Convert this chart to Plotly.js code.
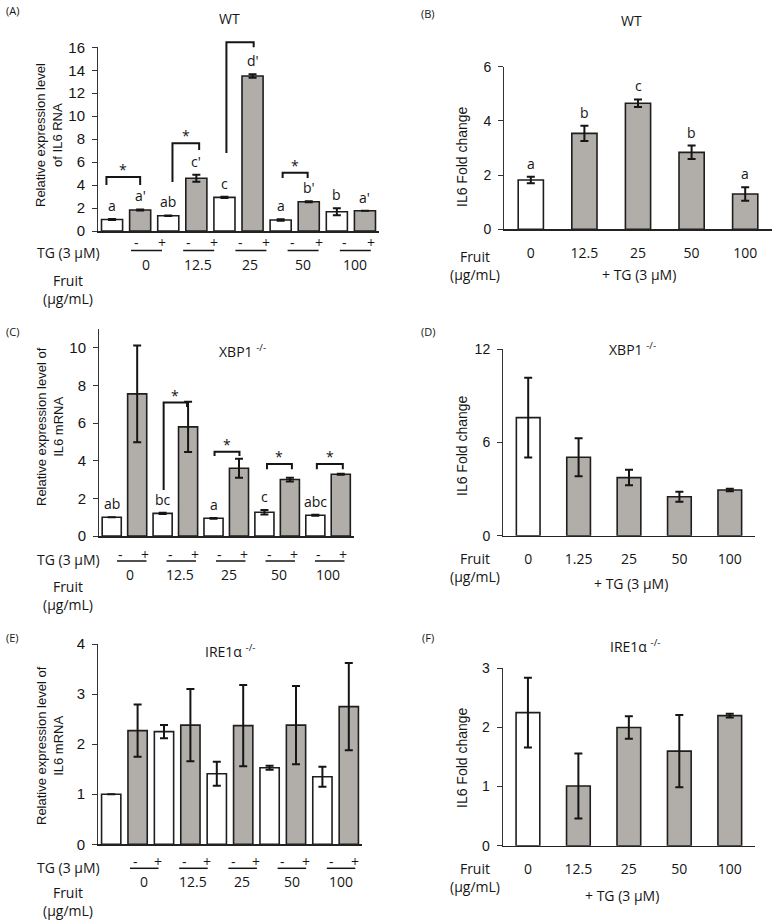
<!DOCTYPE html>
<html><head><meta charset="utf-8">
<script src="https://cdn.plot.ly/plotly-3.0.1.min.js"></script>
<style>html,body{margin:0;padding:0;background:#fff}</style>
</head><body><div id="chart" style="width:779px;height:921px"></div>
<script>
// ---------- data ----------
// (A) WT, relative expression (pairs: TG -, TG +)
const aValues  = [1.00, 1.83, 1.33, 4.59, 2.93, 13.5, 0.96, 2.55, 1.68, 1.77];
const aErrors  = [0.05, 0.05, 0.03, 0.30, 0.05, 0.15, 0.07, 0.05, 0.30, null];
const aLetters = ["a", "a'", "ab", "c'", "c", "d'", "a", "b'", "b", "a'"];
// (B) WT, fold change
const bValues  = [1.82, 3.54, 4.65, 2.84, 1.30];
const bErrors  = [0.12, 0.28, 0.14, 0.25, 0.25];
const bLetters = ["a", "b", "c", "b", "a"];
const bCategories = ["0", "12.5", "25", "50", "100"];
// (C) XBP1 -/-
const cValues  = [1.00, 7.55, 1.20, 5.80, 0.94, 3.60, 1.26, 3.00, 1.10, 3.28];
const cErrors  = [null, 2.57, 0.03, 1.33, 0.02, 0.50, 0.12, 0.10, 0.03, 0.03];
const cLetters = ["ab", "", "bc", "", "a", "", "c", "", "abc", ""];
// (D) XBP1 -/- fold change
const dValues  = [7.60, 5.05, 3.74, 2.51, 2.94];
const dErrors  = [2.57, 1.23, 0.50, 0.32, 0.08];
const dCategories = ["0", "1.25", "25", "50", "100"];
// (E) IRE1a -/-
const eValues  = [1.00, 2.27, 2.25, 2.38, 1.41, 2.37, 1.53, 2.38, 1.35, 2.75];
const eErrors  = [null, 0.52, 0.13, 0.72, 0.24, 0.81, 0.04, 0.78, 0.20, 0.87];
// (F) IRE1a -/- fold change
const fValues  = [2.25, 1.01, 2.00, 1.60, 2.20];
const fErrors  = [0.59, 0.55, 0.19, 0.61, 0.03];
const fCategories = ["0", "12.5", "25", "50", "100"];
// fruit concentrations for paired panels
const fruitGroups = ["0", "12.5", "25", "50", "100"];
// significance brackets: [leftBar, rightBar, top, leftEnd, rightEnd]
const aBrackets = [[-0.2, 1.0, 4.7, 4.0, 4.0], [2.15, 3.1, 7.64, 4.27, 7.05], [4.07, 5.04, 16.44, 6.79, 16.0], [6.07, 6.96, 5.08, 4.62, 4.62]];
const cBrackets = [[2.04, 2.96, 7.09, 2.45, 6.85], [4.04, 5.02, 4.48, 4.25, 4.25], [6.1, 7.08, 3.83, 3.55, 3.55], [8.06, 9.08, 3.83, 3.55, 3.55]];

// ---------- layout helpers ----------
const W = 779, H = 921;
const px = x => x / W, py = y => 1 - y / H;
const GREY = '#b1ada9', EDGE = '#1e1e1e', INK = '#151515';
const SANS = '"Open Sans", "Noto Sans", sans-serif';
const ARIAL = '"Liberation Sans", Arial, sans-serif';

const panels = [
  {values: aValues, errors: aErrors, letters: aLetters, brackets: aBrackets, paired: true,
   xd: [98, 379], yd: [47.3, 231], yr: [0, 16], dt: 2, width: 0.75, tsize: 15},
  {values: bValues, errors: bErrors, letters: bLetters, cats: bCategories,
   xd: [504, 772], yd: [66.7, 229.3], yr: [0, 6], dt: 2, width: 0.47, tsize: 14},
  {values: cValues, errors: cErrors, letters: cLetters, brackets: cBrackets, paired: true,
   xd: [99, 353.5], yd: [329, 536], yr: [0, 11], dt: 2, tmax: 10, width: 0.75, tsize: 15},
  {values: dValues, errors: dErrors, cats: dCategories,
   xd: [503, 755], yd: [349.3, 535.7], yr: [0, 12], dt: 6, width: 0.47, tsize: 14},
  {values: eValues, errors: eErrors, paired: true,
   xd: [98, 362], yd: [644, 844.3], yr: [0, 4], dt: 1, width: 0.73, tsize: 15},
  {values: fValues, errors: fErrors, cats: fCategories,
   xd: [502.7, 755], yd: [668.3, 845.7], yr: [0, 3], dt: 1, width: 0.47, tsize: 14}
];

const data = [], shapes = [], annotations = [];
const layout = {
  width: W, height: H, margin: {l: 0, r: 0, t: 0, b: 0},
  paper_bgcolor: '#fff', plot_bgcolor: '#fff', showlegend: false,
  font: {family: SANS, color: INK, size: 14},
  shapes, annotations
};

function txt(x, y, text, size, extra) {
  annotations.push(Object.assign({xref: 'paper', yref: 'paper', x: px(x), y: py(y), text,
    showarrow: false, xanchor: 'center', yanchor: 'middle',
    font: {family: SANS, size: size || 14, color: INK}}, extra || {}));
}

panels.forEach((p, k) => {
  const n = p.values.length;
  const id = k === 0 ? '' : String(k + 1);
  const xa = 'x' + id, ya = 'y' + id;
  const idx = p.values.map((_, i) => i);
  const colors = idx.map(i => (p.paired ? i % 2 === 0 : i === 0) ? '#ffffff' : GREY);
  data.push({
    type: 'bar', x: idx, y: p.values, xaxis: xa, yaxis: ya, width: p.width,
    marker: {color: colors, line: {color: EDGE, width: 1.6}},
    error_y: {type: 'data', array: p.errors, visible: true, color: INK, thickness: 2, width: 4},
    hoverinfo: 'skip'
  });
  const tvals = [];
  for (let v = p.yr[0]; v <= (p.tmax || p.yr[1]) + 1e-9; v += p.dt) tvals.push(v);
  const xaxis = {
    domain: [px(p.xd[0]), px(p.xd[1])], range: [-0.5, n - 0.5], anchor: ya,
    showline: true, linecolor: '#222', linewidth: 1.5, showgrid: false, zeroline: false,
    ticks: '', fixedrange: true, showticklabels: !!p.cats
  };
  if (p.cats) Object.assign(xaxis, {
    tickmode: 'array', tickvals: idx, ticktext: p.cats,
    tickfont: {family: SANS, size: 14, color: INK}, ticklabelstandoff: 10
  });
  layout['xaxis' + id] = xaxis;
  layout['yaxis' + id] = {
    domain: [py(p.yd[1]), py(p.yd[0])], range: p.yr, anchor: xa,
    showline: true, linecolor: '#333', linewidth: 1, showgrid: false, zeroline: false,
    ticks: 'outside', ticklen: 5, tickcolor: '#333', tickwidth: 1,
    tickmode: 'array', tickvals: tvals, fixedrange: true,
    tickfont: {family: ARIAL, size: p.tsize, color: INK}, ticklabelstandoff: 4
  };
  // significance letters above bars
  (p.letters || []).forEach((L, i) => {
    if (!L) return;
    annotations.push({xref: xa, yref: ya, x: i, y: p.values[i] + (p.errors[i] || 0), text: L,
      showarrow: false, yanchor: 'bottom', xanchor: 'center', yshift: 2,
      font: {family: SANS, size: 14, color: INK}});
  });
  // brackets with asterisks
  const span = p.yr[1] - p.yr[0];
  const dy = v => (v - p.yr[0]) / span;
  (p.brackets || []).forEach(b => {
    shapes.push({type: 'path', xref: xa, yref: ya + ' domain',
      path: `M ${b[0]},${dy(b[3])} L ${b[0]},${dy(b[2])} L ${b[1]},${dy(b[2])} L ${b[1]},${dy(b[4])}`,
      line: {color: INK, width: 2}});
    annotations.push({xref: xa, yref: ya, x: (b[0] + b[1]) / 2, y: b[2], text: '*',
      showarrow: false, yanchor: 'bottom', xanchor: 'center', yshift: -4,
      font: {family: SANS, size: 14, color: INK}});
  });
});

// ---------- TG / fruit rows for paired panels ----------
const rows = [
  {start: 131, step: 52.2, len: 31, mOff: 5, pOff: 31, nOff: 15, yPM: 242, yLine: 250.5, yNum: 264, tgY: 252.5, fruitY: 289.5},
  {start: 117, step: 49.5, len: 29.5, mOff: 3.5, pOff: 28, nOff: 13, yPM: 554, yLine: 561, yNum: 574, tgY: 559, fruitY: 595},
  {start: 130, step: 49.2, len: 28.5, mOff: 5, pOff: 28, nOff: 14, yPM: 861, yLine: 868.3, yNum: 881, tgY: 867.3, fruitY: 901}
];
rows.forEach(r => {
  fruitGroups.forEach((g, j) => {
    const s = r.start + j * r.step;
    shapes.push({type: 'line', xref: 'paper', yref: 'paper', x0: px(s), x1: px(s + r.len),
      y0: py(r.yLine), y1: py(r.yLine), line: {color: INK, width: 1.5}});
    txt(s + r.mOff, r.yPM, '-', 14);
    txt(s + r.pOff, r.yPM, '+', 14);
    txt(s + r.nOff, r.yNum, g, 14);
  });
  txt(68, r.tgY, 'TG (3 μM)', 14);
  txt(68, r.fruitY, 'Fruit<br>(μg/mL)', 14);
});

// fold-change panels: row labels
[[265, 639, 274], [567.5, 630.5, 583], [877.5, 622, 895]].forEach(r => {
  txt(475, r[0], 'Fruit<br>(μg/mL)', 14);
  txt(r[1], r[2], '+ TG (3 μM)', 14);
});

// panel titles
txt(229, 18, 'WT', 14);
txt(631, 20, 'WT', 14);
txt(242, 351, 'XBP1 <sup>-/-</sup>', 14);
txt(632, 349, 'XBP1 <sup>-/-</sup>', 14);
txt(230, 651, 'IRE1α <sup>-/-</sup>', 14);
txt(635, 646, 'IRE1α <sup>-/-</sup>', 14);

// panel letters
[['(A)', 12, 10], ['(B)', 428, 13], ['(C)', 12, 332], ['(D)', 428, 332], ['(E)', 12, 637], ['(F)', 428, 637]]
  .forEach(l => txt(l[1], l[2], l[0], 11));

// y axis titles
const yt = (x, y, t, s) => txt(x, y, t, s, {textangle: -90, font: {family: ARIAL, size: s, color: INK}});
yt(49, 135, 'Relative expression level<br>of IL6 RNA', 13);
yt(50, 427, 'Relative expression level of<br>IL6 mRNA', 13);
yt(50, 746, 'Relative expression level of<br>IL6 mRNA', 13);
yt(462, 157, 'IL6 Fold change', 14);
yt(462, 446, 'IL6 Fold change', 14);
yt(462, 758, 'IL6 Fold change', 14);

Plotly.newPlot('chart', data, layout, {staticPlot: true, displayModeBar: false});
</script>
</body></html>
